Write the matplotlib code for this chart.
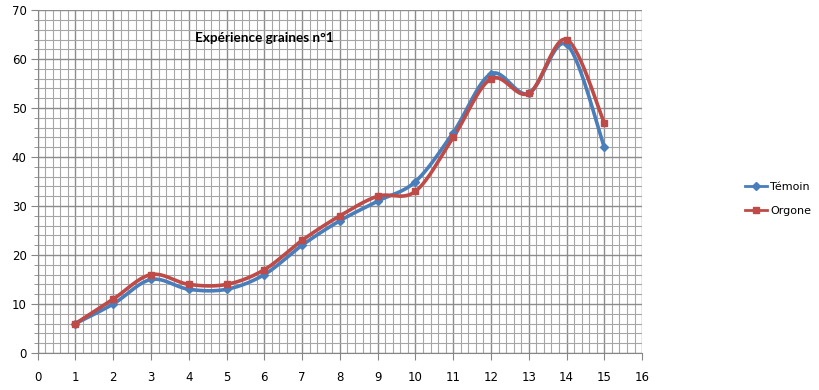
import numpy as np
import matplotlib.pyplot as plt
from matplotlib.ticker import MultipleLocator

# Données
jours = [1, 2, 3, 4, 5, 6, 7, 8, 9, 10, 11, 12, 13, 14, 15]
temoin = [6, 10, 15, 13, 13, 16, 22, 27, 31, 35, 45, 57, 53, 63, 42]
orgone = [6, 11, 16, 14, 14, 17, 23, 28, 32, 33, 44, 56, 53, 64, 47]

titre = "Expérience graines n°1"
noms = ["Témoin", "Orgone"]
couleurs = ["#4A7EBB", "#BE4B48"]
marqueurs = ["D", "s"]


def lissage(x, y, n=30):
    """Courbe lissée façon Excel (Bezier / Catmull-Rom)."""
    x = np.asarray(x, float)
    y = np.asarray(y, float)
    px = np.concatenate([[x[0]], x, [x[-1]]])
    py = np.concatenate([[y[0]], y, [y[-1]]])
    xs, ys = [], []
    t = np.linspace(0, 1, n)
    for i in range(1, len(px) - 2):
        p0 = np.array([px[i], py[i]])
        p3 = np.array([px[i + 1], py[i + 1]])
        p1 = p0 + (np.array([px[i + 1], py[i + 1]]) - np.array([px[i - 1], py[i - 1]])) / 6
        p2 = p3 - (np.array([px[i + 2], py[i + 2]]) - np.array([px[i], py[i]])) / 6
        b = ((1 - t) ** 3)[:, None] * p0 + (3 * (1 - t) ** 2 * t)[:, None] * p1 \
            + (3 * (1 - t) * t ** 2)[:, None] * p2 + (t ** 3)[:, None] * p3
        xs.extend(b[:, 0])
        ys.extend(b[:, 1])
    return np.array(xs), np.array(ys)


fig = plt.figure(figsize=(8.2, 3.9), dpi=100)
ax = fig.add_axes([0.046, 0.095, 0.737, 0.879])

for serie, nom, c, m in zip([temoin, orgone], noms, couleurs, marqueurs):
    xs, ys = lissage(jours, serie)
    ax.plot(xs, ys, color=c, lw=2.6, solid_capstyle='round', zorder=3)
    ax.plot(jours, serie, ls='none', marker=m, ms=4 if m == "D" else 3.8,
            color=c, zorder=4)
    ax.plot([], [], color=c, lw=2, marker=m, ms=4, label=nom)

ax.set_xlim(0, 16)
ax.set_ylim(0, 70)
ax.xaxis.set_major_locator(MultipleLocator(1))
ax.xaxis.set_minor_locator(MultipleLocator(0.2))
ax.yaxis.set_major_locator(MultipleLocator(10))
ax.yaxis.set_minor_locator(MultipleLocator(2))
ax.grid(which='major', color='#8C8C8C', lw=1.0)
ax.grid(which='minor', color='#A6A6A6', lw=0.8)
ax.set_axisbelow(True)

for s in ['top', 'right']:
    ax.spines[s].set_visible(False)
ax.spines['left'].set_color('#868686')
ax.spines['bottom'].set_color('#868686')

ax.tick_params(axis='x', which='major', length=5, color='#868686', labelsize=8.5, pad=8)
ax.tick_params(axis='x', which='minor', length=0)
ax.tick_params(axis='y', which='major', length=5, color='#868686', labelsize=8.5, pad=3)
ax.tick_params(axis='y', which='minor', length=3, color='#868686')

ax.text(6.0, 64.3, titre, fontsize=9.7, fontweight='bold', ha='center', va='center',
        family='Lato')

fig.legend(loc='center left', bbox_to_anchor=(0.908, 0.49), frameon=False,
           fontsize=8, handlelength=2.0, handletextpad=0.3, borderpad=0,
           borderaxespad=0, labelspacing=1.2)

fig.savefig('out.png', dpi=100)
